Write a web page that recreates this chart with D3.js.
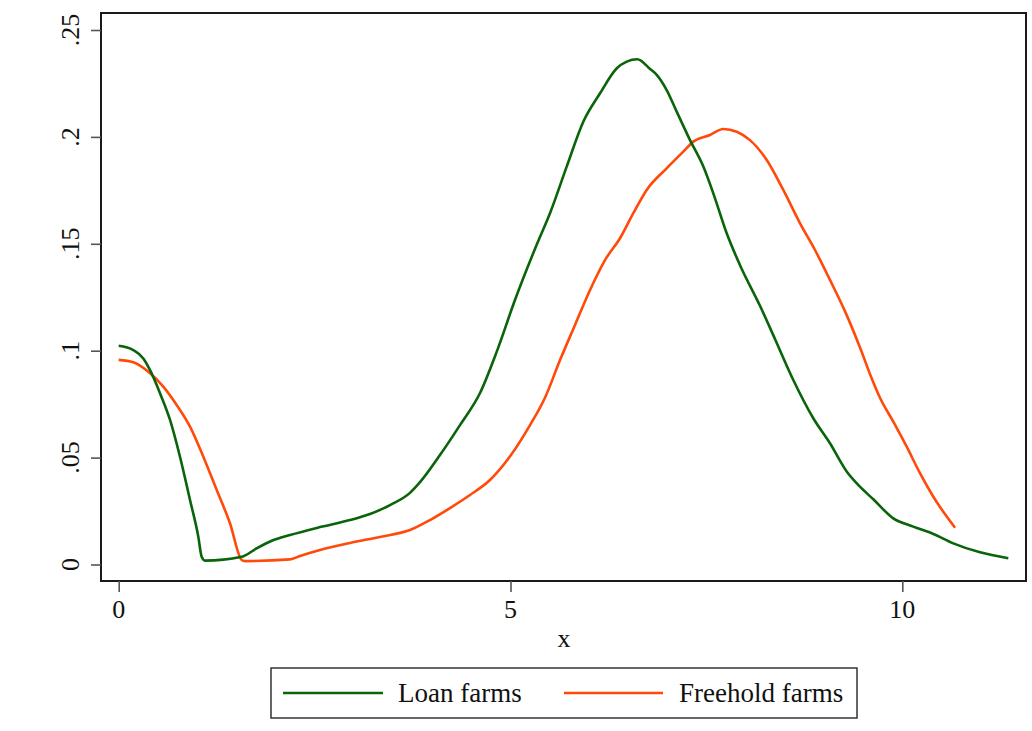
<!DOCTYPE html>
<html><head><meta charset="utf-8">
<script src="https://cdn.jsdelivr.net/npm/d3@7"></script>
</head><body style="margin:0;background:#fff">
<svg id="c" width="1032" height="731" font-family="Liberation Serif"></svg>
<script>
const loanX = [0,0.186,0.314,0.399,0.527,0.655,0.782,0.910,1.016,1.059,1.101,1.570,1.761,1.953,2.186,2.569,2.952,3.207,3.462,3.717,3.845,4.100,4.355,4.611,4.828,5.057,5.338,5.504,5.717,5.929,6.143,6.357,6.483,6.618,6.780,6.866,6.993,7.121,7.291,7.461,7.588,7.759,7.929,8.184,8.375,8.609,8.864,9.077,9.290,9.460,9.630,9.885,10.140,10.396,10.651,10.992,11.353];
const loanY = [0.1023,0.1003,0.0964,0.0910,0.0801,0.0676,0.0504,0.0302,0.0130,0.0036,0.0018,0.0036,0.0076,0.0111,0.0138,0.0175,0.0208,0.0236,0.0278,0.0335,0.0385,0.0512,0.0652,0.0802,0.0999,0.1237,0.1499,0.1643,0.1861,0.2071,0.2204,0.2321,0.2352,0.2363,0.2318,0.2290,0.2219,0.2118,0.1985,0.1861,0.1736,0.1549,0.1400,0.1210,0.1055,0.0863,0.0684,0.0567,0.0435,0.0364,0.0305,0.0216,0.0177,0.0143,0.0099,0.0057,0.0029];
const freeX = [0,0.186,0.378,0.569,0.740,0.910,1.080,1.251,1.420,1.570,1.612,2.186,2.314,2.569,2.952,3.335,3.717,3.973,4.228,4.483,4.738,5.006,5.249,5.440,5.632,5.823,6.015,6.206,6.398,6.567,6.738,6.993,7.205,7.333,7.546,7.716,7.887,8.056,8.270,8.481,8.695,8.886,9.077,9.268,9.460,9.610,9.715,9.885,10.056,10.226,10.396,10.567,10.673];
const freeY = [0.0957,0.0946,0.0902,0.0832,0.0746,0.0645,0.0504,0.0348,0.0193,0.0021,0.0016,0.0024,0.0040,0.0068,0.0101,0.0129,0.0161,0.0208,0.0264,0.0325,0.0395,0.0512,0.0652,0.0780,0.0956,0.1120,0.1284,0.1424,0.1526,0.1643,0.1752,0.1853,0.1931,0.1978,0.2009,0.2037,0.2024,0.1985,0.1892,0.1752,0.1596,0.1471,0.1331,0.1185,0.1015,0.0870,0.0780,0.0668,0.0551,0.0427,0.0317,0.0224,0.0172];
const xTicks = [0,5,10];
const yTicks = [0,0.05,0.1,0.15,0.2,0.25];
const yTickLabels = ["0",".05",".1",".15",".2",".25"];
const seriesNames = ["Loan farms","Freehold farms"];
const seriesColors = ["#0a640a","#ff4a0a"];

const FONT = "Liberation Serif";
const FS = 26, LFS = 27;
const svg = d3.select("#c");
const L=101, R=1026, T=13, B=581;
const x = d3.scaleLinear().domain([0,10]).range([118.7,902.3]);
const y = d3.scaleLinear().domain([0,0.25]).range([564.5,30]);

// frame
svg.append("rect").attr("x",L).attr("y",T).attr("width",R-L).attr("height",B-T)
  .attr("fill","none").attr("stroke","#1a1a1a").attr("stroke-width",2);

// y axis ticks
const ya = svg.append("g").attr("transform",`translate(${L},0)`)
  .call(d3.axisLeft(y).tickValues(yTicks).tickSize(10).tickFormat(""));
ya.attr("font-family",null);
ya.select(".domain").remove();
ya.selectAll("line").attr("stroke","#555").attr("stroke-width",1.6);
ya.selectAll("text").remove();
svg.selectAll(".ylab").data(yTicks).enter().append("text").attr("class","ylab")
  .attr("transform",d=>`translate(79,${y(d)}) rotate(-90)`)
  .attr("text-anchor","middle").attr("font-size",FS)
  .attr("font-family",FONT).attr("fill","#111")
  .text((d,i)=>yTickLabels[i]);

// x axis ticks
const xa = svg.append("g").attr("transform",`translate(0,${B})`)
  .call(d3.axisBottom(x).tickValues(xTicks).tickSize(11).tickFormat(""));
xa.attr("font-family",null);
xa.select(".domain").remove();
xa.selectAll("line").attr("stroke","#555").attr("stroke-width",1.6);
xa.selectAll("text").remove();
svg.selectAll(".xlab").data(xTicks).enter().append("text").attr("class","xlab")
  .attr("x",d=>x(d)).attr("y",618).attr("text-anchor","middle")
  .attr("font-size",FS).attr("font-family",FONT).attr("fill","#111")
  .text(d=>d3.format("d")(d));
svg.append("text").attr("x",564).attr("y",647)
  .attr("text-anchor","middle").attr("font-size",FS).attr("font-family",FONT).attr("fill","#111").text("x");

// lines
const line = d3.line().x(d=>x(d[0])).y(d=>y(d[1])).curve(d3.curveMonotoneX);
const loan = loanX.map((v,i)=>[v,loanY[i]]);
const free = freeX.map((v,i)=>[v,freeY[i]]);
svg.append("path").datum(free).attr("d",line).attr("fill","none")
  .attr("stroke",seriesColors[1]).attr("stroke-width",2.6).attr("stroke-linejoin","round");
svg.append("path").datum(loan).attr("d",line).attr("fill","none")
  .attr("stroke",seriesColors[0]).attr("stroke-width",2.6).attr("stroke-linejoin","round");

// legend
svg.append("rect").attr("x",271).attr("y",668).attr("width",586).attr("height",50)
  .attr("fill","#fff").attr("stroke","#333").attr("stroke-width",1.5);
const lg = [{x1:283,x2:383,tx:398},{x1:564,x2:663,tx:679}];
lg.forEach((g,i)=>{
  svg.append("line").attr("x1",g.x1).attr("x2",g.x2).attr("y1",693).attr("y2",693)
    .attr("stroke",seriesColors[i]).attr("stroke-width",2.6);
  svg.append("text").attr("x",g.tx).attr("y",702).attr("font-size",LFS)
    .attr("font-family",FONT).attr("fill","#111").text(seriesNames[i]);
});
</script>
</body></html>
